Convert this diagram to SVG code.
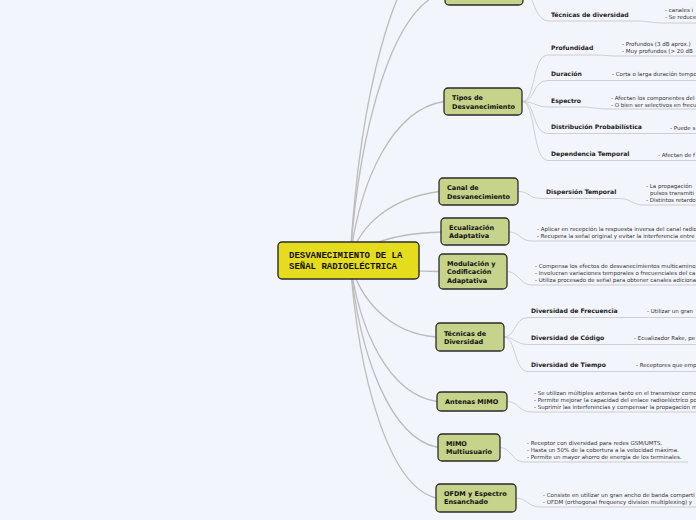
<svg xmlns="http://www.w3.org/2000/svg" width="696" height="520" viewBox="0 0 696 520">
<style>
.bg{fill:#f3f5fc}
.main{fill:none;stroke:#bcbcbc;stroke-width:1.3}
.sub{fill:none;stroke:#c9cacf;stroke-width:0.9}
.node{fill:#c6d38b;stroke:#2b2b2b;stroke-width:1.3}
.center{fill:#e6dc1e;stroke:#2b2b2b;stroke-width:1.4}
.nt{font-family:"DejaVu Sans",Verdana,sans-serif;font-size:6.5px;font-weight:bold;fill:#111}
.lb{font-family:"DejaVu Sans",Verdana,sans-serif;font-size:6.1px;font-weight:bold;fill:#1a1a1a}
.ds{font-family:"DejaVu Sans",Verdana,sans-serif;font-size:5.5px;fill:#333}
.ct{font-family:"Liberation Mono","Courier New",monospace;font-size:9px;font-weight:bold;fill:#111}
</style>
<rect class="bg" x="0" y="0" width="696" height="520"/>
<g id="connectors">
<path class="main" d="M350 260 C359.5 100 392.75 -44 445 -60"/>
<path class="main" d="M350 260 C359.5 126 392.75 5.4 445 -8"/>
<path class="main" d="M350 260 C359.4 180.75 392.3 109.4 444 101.5"/>
<path class="main" d="M350 260 C358.9 225.75 390 198 439 191.5"/>
<path class="main" d="M350 260 C359.1 246 391 233.4 441 232"/>
<path class="main" d="M350 260 C358.9 265.75 390 271 439 271.5"/>
<path class="main" d="M350 260 C358.6 298.5 388.7 333.15 436 337"/>
<path class="main" d="M350 260 C358.7 330.75 389.2 394.4 437 401.5"/>
<path class="main" d="M350 260 C358.8 353.75 389.6 438.1 438 447.5"/>
<path class="main" d="M350 260 C358.6 379 388.7 486.1 436 498"/>
<path class="sub" d="M523 -8 C535 -8 533 21 549 21 L638 21 C648 21 652 23 662 23 L696 23"/>
<path class="sub" d="M522 101.5 C536 101.5 532 55 548 55 L596 55 C604 55 608 56 616 56 L696 56"/>
<path class="sub" d="M522 101.5 C536 101.5 532 80.5 548 80.5 L696 80.5"/>
<path class="sub" d="M522 101.5 C534 101.5 536 107 548 107 L583 107 C592 107 598 109 606 109 L696 109"/>
<path class="sub" d="M522 101.5 C536 101.5 532 133.5 548 133.5 L696 133.5"/>
<path class="sub" d="M522 101.5 C536 101.5 532 160.5 548 160.5 L696 160.5"/>
<path class="sub" d="M518 191.5 C530 191.5 528 198.5 542 198.5 L620 198.5 C630 198.5 634 205 642 205 L696 205"/>
<path class="sub" d="M509 232 C520 232 520 241 532 241 L696 241"/>
<path class="sub" d="M507 271.5 C518 271.5 520 285 532 285 L696 285"/>
<path class="sub" d="M504 337 C516 337 514 317.5 528 317.5 L696 317.5"/>
<path class="sub" d="M504 337 C514 337 516 344.5 528 344.5 L696 344.5"/>
<path class="sub" d="M504 337 C516 337 514 371.5 528 371.5 L696 371.5"/>
<path class="sub" d="M507 401.5 C518 401.5 519 412 531 412 L696 412"/>
<path class="sub" d="M500 447.5 C511 447.5 512 462 524 462 L688 462"/>
<path class="sub" d="M516 498 C527 498 528 507 540 507 L696 507"/>
</g>
<g id="center">
<rect class="center" x="278" y="242" width="141" height="37" rx="4"/>
<text class="ct" x="289" y="258">DESVANECIMIENTO DE LA</text>
<text class="ct" x="289" y="269">SEÑAL RADIOELÉCTRICA</text>
</g>
<g id="node-top">
<rect class="node" x="445" y="-22" width="78" height="27" rx="4"/>
<text class="lb" x="551" y="16.5">Técnicas de diversidad</text>
<text class="ds" x="665" y="11.5">-  canales i</text>
<text class="ds" x="665" y="18.5">- Se reduce</text>
</g>
<g id="node-tipos">
<rect class="node" x="444" y="88" width="78" height="27" rx="4"/>
<text class="nt" x="452" y="100">Tipos de</text>
<text class="nt" x="452" y="108.5">Desvanecimiento</text>
<text class="lb" x="551" y="49.5">Profundidad</text>
<text class="ds" x="622" y="45.5">-  Profundos (3 dB aprox.)</text>
<text class="ds" x="622" y="52.5">-  Muy profundos (&gt; 20 dB</text>
<text class="lb" x="551" y="75.5">Duración</text>
<text class="ds" x="612" y="75.5">- Corta o larga duración tempo</text>
<text class="lb" x="551" y="102.5">Espectro</text>
<text class="ds" x="611" y="99.5">- Afectan los componentes del</text>
<text class="ds" x="611" y="106.5">- O bien ser selectivos en frecu</text>
<text class="lb" x="551" y="128.5">Distribución Probabilística</text>
<text class="ds" x="670" y="129.5">- Puede s</text>
<text class="lb" x="551" y="155.5">Dependencia Temporal</text>
<text class="ds" x="658" y="156.5">- Afectan de f</text>
</g>
<g id="node-canal">
<rect class="node" x="439" y="178" width="79" height="27" rx="4"/>
<text class="nt" x="447" y="190">Canal de</text>
<text class="nt" x="447" y="198.5">Desvanecimiento</text>
<text class="lb" x="546" y="193.5">Dispersión Temporal</text>
<text class="ds" x="646" y="187.5">- La propagación</text>
<text class="ds" x="650" y="194.5">pulsos transmiti</text>
<text class="ds" x="646" y="201.5">- Distintos retardo</text>
</g>
<g id="node-ecualizacion">
<rect class="node" x="441" y="218" width="68" height="27" rx="4"/>
<text class="nt" x="449" y="229.5">Ecualización</text>
<text class="nt" x="449" y="238">Adaptativa</text>
<text class="ds" x="537" y="230.5">- Aplicar en recepción la respuesta inversa del canal radio</text>
<text class="ds" x="537" y="237.5">- Recupera la señal original y evitar la interferencia entre</text>
</g>
<g id="node-modulacion">
<rect class="node" x="439" y="254" width="68" height="35" rx="4"/>
<text class="nt" x="447" y="265.5">Modulación y</text>
<text class="nt" x="447" y="274">Codificación</text>
<text class="nt" x="447" y="282.5">Adaptativa</text>
<text class="ds" x="535" y="267.5">- Compensa los efectos de desvanecimientos multicamino.</text>
<text class="ds" x="535" y="274.5">- Involucran variaciones temporales o frecuenciales del ca</text>
<text class="ds" x="535" y="281.5">- Utiliza procesado de señal para obtener canales adiciona</text>
</g>
<g id="node-tecnicas">
<rect class="node" x="436" y="323" width="68" height="28" rx="4"/>
<text class="nt" x="444" y="335.5">Técnicas de</text>
<text class="nt" x="444" y="344">Diversidad</text>
<text class="lb" x="531" y="312.5">Diversidad de Frecuencia</text>
<text class="ds" x="647" y="312.5">-  Utilizar un gran</text>
<text class="lb" x="531" y="339.5">Diversidad de Código</text>
<text class="ds" x="634" y="339.5">- Ecualizador Rake, pe</text>
<text class="lb" x="531" y="366.5">Diversidad de Tiempo</text>
<text class="ds" x="636" y="366.5">-  Receptores que emp</text>
</g>
<g id="node-antenas">
<rect class="node" x="437" y="392" width="70" height="19" rx="4"/>
<text class="nt" x="445" y="404">Antenas MIMO</text>
<text class="ds" x="534" y="394.5">- Se utilizan múltiples antenas tanto en el transmisor como</text>
<text class="ds" x="534" y="401.5">- Permite mejorar la capacidad del enlace radioeléctrico po</text>
<text class="ds" x="534" y="408.5">- Suprimir las interferencias y compensar la propagación m</text>
</g>
<g id="node-mimo">
<rect class="node" x="438" y="434" width="62" height="27" rx="4"/>
<text class="nt" x="446" y="445.5">MIMO</text>
<text class="nt" x="446" y="454">Multiusuario</text>
<text class="ds" x="527" y="444.5">- Receptor con diversidad para redes GSM/UMTS.</text>
<text class="ds" x="527" y="451.5">- Hasta un 50% de la cobertura a la velocidad máxima.</text>
<text class="ds" x="527" y="458.5">- Permite un mayor ahorro de energía de los terminales.</text>
</g>
<g id="node-ofdm">
<rect class="node" x="436" y="484" width="80" height="28" rx="4"/>
<text class="nt" x="444" y="495.5">OFDM y Espectro</text>
<text class="nt" x="444" y="504">Ensanchado</text>
<text class="ds" x="543" y="496.5">- Consiste en utilizar un gran ancho de banda comparti</text>
<text class="ds" x="543" y="503.5">- OFDM (orthogonal frequency division multiplexing) y</text>
</g>
</svg>
